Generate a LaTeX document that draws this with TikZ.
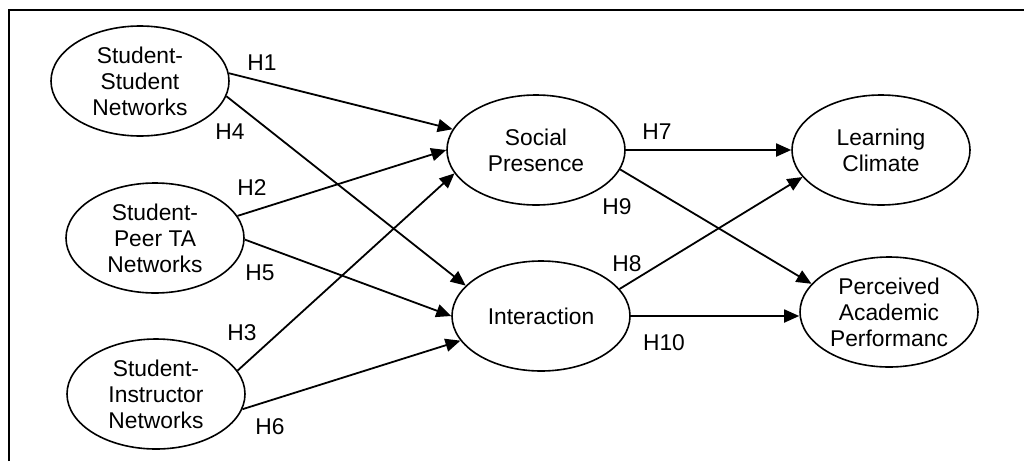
\documentclass[tikz,border=0pt]{standalone}
\usepackage{fontspec}
\setmainfont{Liberation Sans}
\usetikzlibrary{arrows.meta,shapes.geometric}
\begin{document}
\begin{tikzpicture}[x=1pt,y=-1pt,
  latent/.style={ellipse,draw,line width=1.6pt,minimum width=178pt,minimum height=110pt,inner sep=0pt,align=center,font=\fontsize{22.8}{26}\selectfont},
  hpath/.style={line width=1.8pt,-{Triangle[length=15pt,width=13pt]}},
  hlab/.style={font=\fontsize{22.8}{26}\selectfont,inner sep=0pt}]
\useasboundingbox (0,0) rectangle (1024,461);
\draw[line width=2pt] (9,461) -- (9,10) -- (1024,10);

\node[latent] (ssn)  at (140,81)  {Student-\\Student\\Networks};
\node[latent] (spta) at (155,238) {Student-\\Peer TA\\Networks};
\node[latent] (sin)  at (156,394) {Student-\\Instructor\\Networks};
\node[latent] (sp)   at (536,150) {Social\\Presence};
\node[latent] (int)  at (541,316) {Interaction};
\node[latent] (lc)   at (881,150) {Learning\\Climate};
\node[latent] (pap)  at (889,312) {Perceived\\Academic\\Performanc};

\draw[hpath] (ssn.5)    -- (sp.166.6);
\draw[hpath] (ssn.-10.8) -- (int.158.6);
\draw[hpath] (spta.15.7) -- (sp.180);
\draw[hpath] (spta.-1.9) -- (int.180);
\draw[hpath] (sin.16.3)  -- (sp.-164.7);
\draw[hpath] (sin.-10.8) -- (int.-163.5);
\draw[hpath] (sp.0)      -- (lc.180);
\draw[hpath] (sp.-13.9)  -- (pap.160.3);
\draw[hpath] (int.19.7)  -- (lc.-161);
\draw[hpath] (int.east)  -- (int.east -| pap.west);

\node[hlab] (h1)  at (262,63)  {H1};
\node[hlab] (h4)  at (230,132) {H4};
\node[hlab] (h2)  at (252,188) {H2};
\node[hlab] (h5)  at (260,273) {H5};
\node[hlab] (h3)  at (242,333) {H3};
\node[hlab] (h6)  at (270,427) {H6};
\node[hlab] (h7)  at (657,132) {H7};
\node[hlab] (h9)  at (617,207) {H9};
\node[hlab] (h8)  at (627,264) {H8};
\node[hlab] (h10) at (664,343) {H10};
\end{tikzpicture}
\end{document}
